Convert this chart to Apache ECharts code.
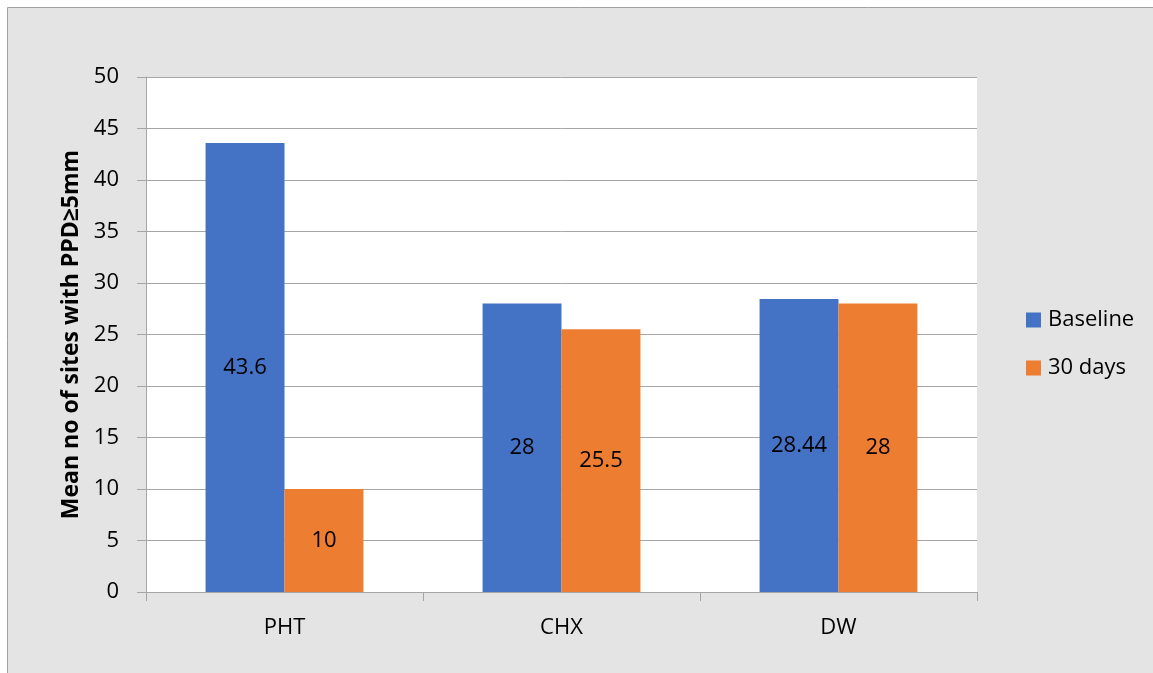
<!DOCTYPE html>
<html>
<head>
<meta charset="utf-8">
<script src="https://cdn.jsdelivr.net/npm/echarts@6/dist/echarts.min.js"></script>
<style>
  html, body { margin: 0; padding: 0; background: #fff; }
  #chart { width: 1153px; height: 673px; }
</style>
</head>
<body>
<div id="chart"></div>
<script>
var categories = ['PHT', 'CHX', 'DW'];
var baseline = [43.6, 28, 28.44];
var days30 = [10, 25.5, 28];
var seriesNames = ['Baseline', '30 days'];
var yTitle = 'Mean no of sites with PPD\u22655mm';

var fontFamily = '"Open Sans", "Liberation Sans", sans-serif';
var gridColor = '#a6a6a6';

var myChart = echarts.init(document.getElementById('chart'));

var labelStyle = {
    show: true,
    position: 'inside',
    color: '#000',
    fontSize: 22,
    fontFamily: fontFamily
};

var option = {
    backgroundColor: '#fff',
    animation: false,
    color: ['#4472C4', '#ED7D31'],
    graphic: [{
        type: 'rect',
        z: -10,
        shape: { x: 7.5, y: 7.5, width: 1160, height: 680 },
        style: { fill: '#e4e4e4', stroke: '#a0a0a0', lineWidth: 1 }
    }],
    grid: {
        show: true,
        backgroundColor: '#fff',
        borderWidth: 0,
        left: 146,
        top: 77,
        right: 176,
        bottom: 81
    },
    legend: {
        data: seriesNames,
        orient: 'vertical',
        left: 1021,
        top: 304,
        itemWidth: 15,
        itemHeight: 15,
        itemGap: 26,
        icon: 'rect',
        textStyle: { color: '#000', fontSize: 22, fontFamily: fontFamily, padding: [0, 0, 0, 2] }
    },
    xAxis: {
        type: 'category',
        data: categories,
        axisLine: { lineStyle: { color: gridColor, width: 1 } },
        axisTick: { show: true, length: 9, lineStyle: { color: gridColor } },
        axisLabel: { color: '#000', fontSize: 22, fontFamily: fontFamily, margin: 25 }
    },
    yAxis: {
        type: 'value',
        min: 0,
        max: 50,
        interval: 5,
        name: yTitle,
        nameLocation: 'middle',
        nameGap: 59,
        nameTextStyle: { color: '#000', fontSize: 23, fontWeight: 'bold', fontFamily: fontFamily },
        axisLine: { show: true, lineStyle: { color: gridColor, width: 1 } },
        axisTick: { show: true, length: 9, lineStyle: { color: gridColor } },
        axisLabel: { color: '#000', fontSize: 22, fontFamily: fontFamily, margin: 27 },
        splitLine: { lineStyle: { color: gridColor, width: 1 } }
    },
    series: [
        {
            name: seriesNames[0],
            type: 'bar',
            data: baseline,
            barGap: '0%',
            barCategoryGap: '43%',
            label: labelStyle
        },
        {
            name: seriesNames[1],
            type: 'bar',
            data: days30,
            label: labelStyle
        }
    ]
};

myChart.setOption(option);
</script>
</body>
</html>
